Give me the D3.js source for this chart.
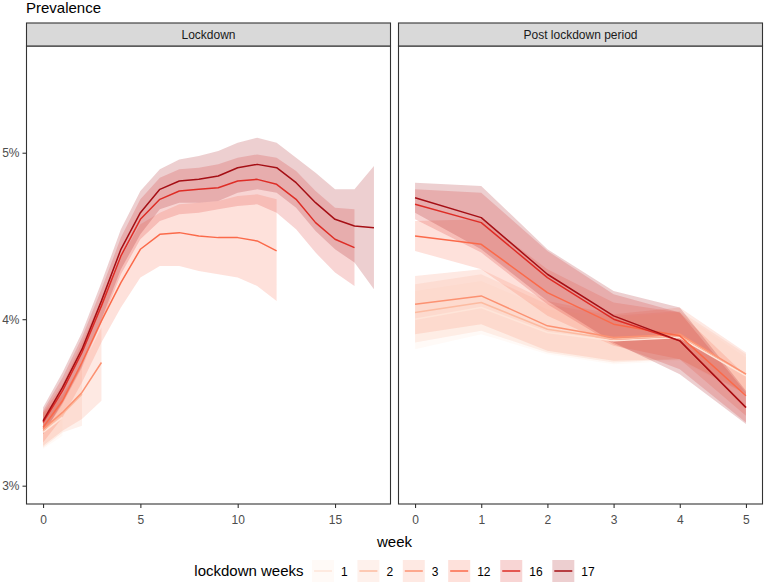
<!DOCTYPE html>
<html><head><meta charset="utf-8">
<script src="https://cdn.jsdelivr.net/npm/d3@7"></script>
<style>body{margin:0;background:#fff}svg{display:block;font-family:"Liberation Sans",Arial,sans-serif}</style>
</head><body><svg id="c" width="765" height="583"></svg>
<script>
// ---------- data (prevalence in %) ----------
const seriesNames = ["1", "2", "3", "12", "16", "17"];
const seriesColors = ["#FEE5D9", "#FCBBA1", "#FC9272", "#FB6A4A", "#DE2D26", "#A50F15"];
const panelNames = ["Lockdown", "Post lockdown period"];
const yTickValues = [3, 4, 5];
const yTickLabels = ["3%", "4%", "5%"];
const lockdownXTicks = [0, 5, 10, 15];
const postXTicks = [0, 1, 2, 3, 4, 5];

// Lockdown panel: week index = position in array
const lockdownMean = [
  [3.32, 3.41],
  [3.33, 3.43, 3.55],
  [3.34, 3.44, 3.56, 3.74],
  [3.35, 3.51, 3.74, 3.99, 4.22, 4.42, 4.51, 4.52, 4.50, 4.49, 4.49, 4.47, 4.41],
  [3.38, 3.57, 3.80, 4.08, 4.38, 4.60, 4.72, 4.77, 4.78, 4.79, 4.83, 4.84, 4.81, 4.72, 4.58, 4.48, 4.43],
  [3.39, 3.59, 3.82, 4.11, 4.42, 4.64, 4.78, 4.83, 4.84, 4.86, 4.91, 4.93, 4.91, 4.82, 4.70, 4.60, 4.56, 4.55]
];
const lockdownLow = [
  [3.22, 3.30],
  [3.23, 3.32, 3.36],
  [3.24, 3.33, 3.40, 3.51],
  [3.26, 3.41, 3.62, 3.86, 4.07, 4.25, 4.32, 4.32, 4.29, 4.27, 4.25, 4.20, 4.11],
  [3.31, 3.49, 3.71, 3.98, 4.27, 4.48, 4.59, 4.63, 4.64, 4.66, 4.68, 4.69, 4.64, 4.54, 4.40, 4.28, 4.20],
  [3.31, 3.50, 3.72, 4.00, 4.30, 4.51, 4.66, 4.70, 4.70, 4.71, 4.76, 4.78, 4.76, 4.67, 4.53, 4.42, 4.34, 4.18]
];
const lockdownHigh = [
  [3.42, 3.52],
  [3.43, 3.54, 3.74],
  [3.44, 3.55, 3.72, 3.95],
  [3.44, 3.61, 3.86, 4.12, 4.37, 4.57, 4.64, 4.69, 4.70, 4.71, 4.74, 4.75, 4.72],
  [3.45, 3.65, 3.89, 4.18, 4.49, 4.72, 4.85, 4.90, 4.91, 4.93, 4.97, 4.99, 4.97, 4.89, 4.77, 4.67, 4.66],
  [3.47, 3.68, 3.92, 4.22, 4.54, 4.77, 4.90, 4.96, 4.98, 5.01, 5.06, 5.09, 5.06, 4.97, 4.88, 4.78, 4.78, 4.92]
];
// Post lockdown panel: weeks 0..5
const postMean = [
  [4.00, 4.07, 3.92, 3.87, 3.89, 3.66],
  [4.04, 4.10, 3.94, 3.88, 3.90, 3.67],
  [4.09, 4.14, 3.96, 3.89, 3.91, 3.67],
  [4.50, 4.45, 4.16, 3.97, 3.90, 3.54],
  [4.69, 4.58, 4.25, 4.00, 3.87, 3.47],
  [4.73, 4.61, 4.27, 4.02, 3.87, 3.47]
];
const postLow = [
  [3.82, 3.91, 3.79, 3.73, 3.75, 3.55],
  [3.86, 3.93, 3.80, 3.74, 3.76, 3.56],
  [3.91, 3.97, 3.81, 3.75, 3.76, 3.55],
  [4.41, 4.30, 4.02, 3.84, 3.76, 3.42],
  [4.60, 4.40, 4.09, 3.85, 3.70, 3.38],
  [4.64, 4.42, 4.11, 3.86, 3.67, 3.37]
];
const postHigh = [
  [4.17, 4.23, 4.06, 4.01, 4.04, 3.77],
  [4.21, 4.27, 4.09, 4.02, 4.05, 3.79],
  [4.26, 4.30, 4.11, 4.03, 4.07, 3.80],
  [4.59, 4.60, 4.30, 4.10, 4.04, 3.66],
  [4.78, 4.76, 4.41, 4.15, 4.04, 3.56],
  [4.82, 4.80, 4.42, 4.17, 4.07, 3.57]
];

// ---------- drawing ----------
const svg = d3.select("#c");
const FONT = '"Liberation Sans", Arial, sans-serif';
const panelTop = 46, panelBottom = 504, stripTop = 23;
const y = d3.scaleLinear().domain([2.890, 5.641]).range([panelBottom, panelTop]);

function toRows(mean, lo, hi) {
  return mean.map((m, i) => ({ w: i, m: m, lo: lo[i], hi: hi[i] }));
}

const panels = [
  { name: panelNames[0], x0: 26.5, x1: 390.5, max: 17, ticks: lockdownXTicks, mean: lockdownMean, lo: lockdownLow, hi: lockdownHigh },
  { name: panelNames[1], x0: 398.5, x1: 762.5, max: 5, ticks: postXTicks, mean: postMean, lo: postLow, hi: postHigh }
];

svg.append("text").attr("x", 26).attr("y", 13).attr("font-size", 15).attr("fill", "#000").text("Prevalence");

panels.forEach((p, pi) => {
  const x = d3.scaleLinear().domain([-0.05 * p.max, p.max * 1.05]).range([p.x0, p.x1]);
  const cid = "clip" + pi;
  svg.append("clipPath").attr("id", cid).append("rect")
    .attr("x", p.x0).attr("y", panelTop).attr("width", p.x1 - p.x0).attr("height", panelBottom - panelTop);
  const g = svg.append("g").attr("clip-path", `url(#${cid})`);
  const area = d3.area().x(d => x(d.w)).y0(d => y(d.lo)).y1(d => y(d.hi));
  const line = d3.line().x(d => x(d.w)).y(d => y(d.m));
  seriesNames.forEach((s, si) => {
    g.append("path").datum(toRows(p.mean[si], p.lo[si], p.hi[si]))
      .attr("d", area).attr("fill", seriesColors[si]).attr("fill-opacity", 0.2);
  });
  seriesNames.forEach((s, si) => {
    g.append("path").datum(toRows(p.mean[si], p.lo[si], p.hi[si]))
      .attr("d", line).attr("fill", "none").attr("stroke", seriesColors[si])
      .attr("stroke-width", 1.5).attr("stroke-linejoin", "round");
  });
  // border
  svg.append("rect").attr("x", p.x0).attr("y", panelTop).attr("width", p.x1 - p.x0).attr("height", panelBottom - panelTop)
    .attr("fill", "none").attr("stroke", "#333333").attr("stroke-width", 1.1);
  // strip
  svg.append("rect").attr("x", p.x0).attr("y", stripTop).attr("width", p.x1 - p.x0).attr("height", panelTop - stripTop)
    .attr("fill", "#D9D9D9").attr("stroke", "#333333").attr("stroke-width", 1.1);
  svg.append("text").attr("x", (p.x0 + p.x1) / 2).attr("y", 39.3).attr("text-anchor", "middle")
    .attr("font-size", 12).attr("fill", "#1A1A1A").text(p.name);
  // x axis
  const xa = d3.axisBottom(x).tickValues(p.ticks).tickSize(4).tickPadding(7).tickFormat(d3.format("d"));
  const ax = svg.append("g").attr("transform", `translate(0,${panelBottom})`).call(xa);
  ax.select(".domain").remove();
  ax.selectAll(".tick line").attr("stroke", "#333333").attr("stroke-width", 1.1);
  ax.selectAll(".tick text").attr("fill", "#4D4D4D").attr("font-size", 12).attr("font-family", FONT);
  if (pi === 0) {
    const ya = d3.axisLeft(y).tickValues(yTickValues).tickSize(4).tickPadding(3)
      .tickFormat((d, i) => yTickLabels[i]);
    const ay = svg.append("g").attr("transform", `translate(${p.x0},0)`).call(ya);
    ay.select(".domain").remove();
    ay.selectAll(".tick line").attr("stroke", "#333333").attr("stroke-width", 1.1);
    ay.selectAll(".tick text").attr("fill", "#4D4D4D").attr("font-size", 12).attr("font-family", FONT);
  }
});

svg.append("text").attr("x", 394.5).attr("y", 547).attr("text-anchor", "middle")
  .attr("font-size", 15).attr("fill", "#000").text("week");

// ---------- legend ----------
const lg = svg.append("g");
const lt = lg.append("text").attr("y", 576).attr("font-size", 15).attr("fill", "#000").text("lockdown weeks");
const titleW = lt.node().getComputedTextLength();
let cx = titleW + 8.5;
seriesNames.forEach((s, si) => {
  const it = lg.append("g");
  it.append("rect").attr("x", cx).attr("y", 560).attr("width", 22).attr("height", 22)
    .attr("fill", seriesColors[si]).attr("fill-opacity", 0.2);
  it.append("line").attr("x1", cx + 2).attr("x2", cx + 20).attr("y1", 571).attr("y2", 571)
    .attr("stroke", seriesColors[si]).attr("stroke-width", 1.5);
  const t = it.append("text").attr("x", cx + 29).attr("y", 575.5).attr("font-size", 12).attr("fill", "#000").text(s);
  cx += 22 + 7 + t.node().getComputedTextLength() + 9.7;
});
const totalW = cx - 9.7;
lg.attr("transform", `translate(${(394.5 - totalW / 2).toFixed(1)},0)`);
</script></body></html>
